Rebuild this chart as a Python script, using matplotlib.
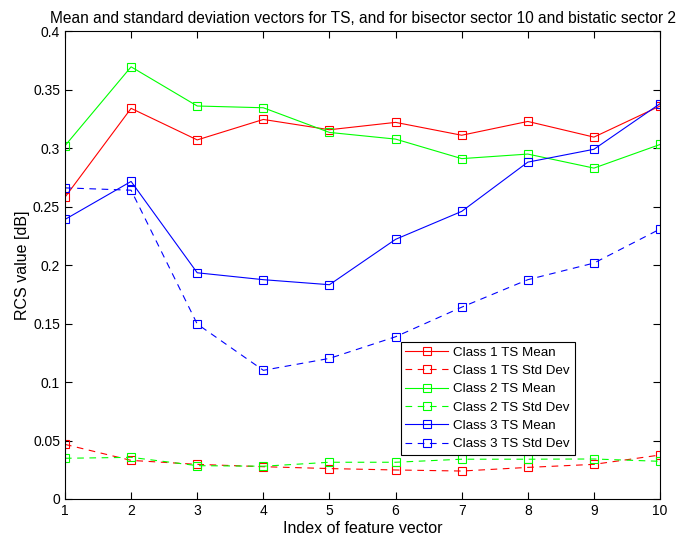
import numpy as np
import matplotlib.pyplot as plt

plt.rcParams['font.family'] = ['Liberation Sans', 'DejaVu Sans']

idx = np.arange(1, 11)

c1_mean = [0.258, 0.334, 0.307, 0.3245, 0.3157, 0.322, 0.311, 0.3228, 0.3094, 0.336]
c1_std  = [0.0467, 0.033, 0.0296, 0.0276, 0.026, 0.0248, 0.0239, 0.027, 0.0296, 0.0376]
c2_mean = [0.302, 0.3695, 0.336, 0.3345, 0.3134, 0.3077, 0.291, 0.2949, 0.2829, 0.3031]
c2_std  = [0.0348, 0.0356, 0.0285, 0.028, 0.0314, 0.0314, 0.034, 0.034, 0.0342, 0.0322]
c3_mean = [0.239, 0.2715, 0.1934, 0.1875, 0.1832, 0.222, 0.2459, 0.288, 0.299, 0.338]
c3_std  = [0.266, 0.264, 0.1496, 0.110, 0.1202, 0.1387, 0.164, 0.1875, 0.2017, 0.2308]

series = [
    (c1_mean, '#ff0000', '-',  'Class 1 TS Mean'),
    (c1_std,  '#ff0000', '--', 'Class 1 TS Std Dev'),
    (c2_mean, '#00ff00', '-',  'Class 2 TS Mean'),
    (c2_std,  '#00ff00', '--', 'Class 2 TS Std Dev'),
    (c3_mean, '#0000ff', '-',  'Class 3 TS Mean'),
    (c3_std,  '#0000ff', '--', 'Class 3 TS Std Dev'),
]

fig = plt.figure(figsize=(6.89, 5.37), dpi=100)
ax = fig.add_axes([0.0943, 0.0708, 0.8637, 0.8712])

for y, c, ls, lab in series:
    style = (0, (6, 5)) if ls == '--' else '-'
    ax.plot(idx, y, color=c, linestyle=style, linewidth=0.8,
            marker='s', markersize=6, markerfacecolor='none',
            markeredgecolor=c, markeredgewidth=0.8, label=lab)

ax.set_xlim(1, 10)
ax.set_ylim(0, 0.4)
ax.set_xticks(idx)
ax.set_yticks(np.arange(0, 0.41, 0.05))
ax.set_yticklabels(['0', '0.05', '0.1', '0.15', '0.2', '0.25', '0.3', '0.35', '0.4'])
ax.tick_params(direction='in', top=True, right=True, labelsize=10, length=5, width=0.8)
for s in ax.spines.values():
    s.set_linewidth(0.8)

ax.set_title('Mean and standard deviation vectors for TS, and for bisector sector 10 and bistatic sector 2',
             fontsize=11.2, pad=6)
ax.set_xlabel('Index of feature vector', fontsize=11.5, labelpad=2)
ax.set_ylabel('RCS value [dB]', fontsize=11.5, labelpad=2)

leg = ax.legend(loc='lower left', bbox_to_anchor=(0.553, 0.080), fontsize=9.6,
                fancybox=False, framealpha=1, edgecolor='black',
                handlelength=3.2, borderpad=0.35, labelspacing=0.45, handletextpad=0.4)
leg.get_frame().set_linewidth(0.8)

fig.savefig('out.png', dpi=100)
